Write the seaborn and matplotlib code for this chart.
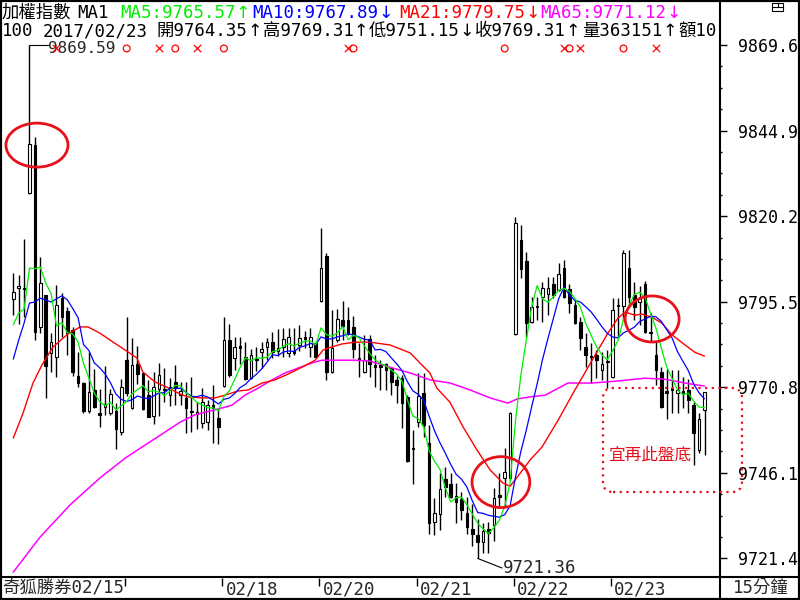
import numpy as np
import pandas as pd
import matplotlib
matplotlib.use("Agg")
import matplotlib.pyplot as plt
import seaborn as sns
from matplotlib.patches import Ellipse, FancyBboxPatch, Rectangle
from matplotlib.lines import Line2D
from matplotlib.transforms import IdentityTransform

# 15-minute bars of the TAIEX, 02/15 (tail) .. 02/23
opens = [
    9796.2, 9799.4, 9799.1, 9826.8, 9840.7, 9788.2, 9797.4, 9780.6, 9779.5, 9796.5,
    9792.8, 9787.3, 9774.1, 9772.0, 9763.9, 9770.0, 9763.3, 9765.1, 9763.3, 9763.9,
    9757.8, 9778.6, 9764.8, 9777.4, 9774.9, 9768.6, 9762.5, 9770.3, 9770.3, 9768.6,
    9772.3, 9768.6, 9767.7, 9763.9, 9763.0, 9760.4, 9760.7, 9765.7, 9761.9, 9771.2,
    9784.4, 9779.2, 9782.7, 9779.5, 9773.5, 9778.9, 9780.9, 9782.4, 9783.8, 9781.2,
    9782.4, 9780.6, 9781.2, 9782.9, 9785.3, 9782.4, 9783.5, 9795.7, 9808.7, 9775.2,
    9784.4, 9790.2, 9790.2, 9788.2, 9779.2, 9775.2, 9784.7, 9777.2, 9777.2, 9777.4,
    9776.3, 9772.9, 9773.5, 9768.0, 9753.2, 9760.7, 9769.1, 9754.6, 9731.9, 9734.2,
    9744.3, 9742.8, 9739.4, 9738.5, 9734.4, 9729.8, 9728.1, 9726.1, 9729.8, 9731.0,
    9739.6, 9744.6, 9744.6, 9786.1, 9813.3, 9807.2, 9789.6, 9794.0, 9796.8, 9797.7,
    9800.6, 9798.8, 9805.2, 9799.1, 9794.5, 9789.6, 9782.4, 9779.8, 9780.1, 9775.8,
    9778.0, 9773.8, 9794.2, 9794.2, 9805.2, 9797.4, 9795.4, 9800.6, 9786.4, 9780.1,
    9775.2, 9769.7, 9770.6, 9769.1, 9769.7, 9770.0, 9765.7, 9752.7, 9764.35]
highs = [
    9803.7, 9803.2, 9813.6, 9869.59, 9843.0, 9808.4, 9797.4, 9786.4, 9800.3, 9797.9,
    9794.0, 9788.2, 9780.9, 9772.3, 9780.9, 9776.0, 9770.3, 9776.9, 9770.3, 9766.2,
    9773.2, 9791.1, 9785.0, 9782.7, 9775.2, 9772.9, 9775.2, 9777.7, 9776.3, 9773.5,
    9777.2, 9772.3, 9772.3, 9773.8, 9766.5, 9770.6, 9767.1, 9771.5, 9764.8, 9791.1,
    9789.0, 9785.3, 9785.3, 9783.8, 9781.8, 9782.4, 9783.8, 9785.0, 9786.7, 9787.6,
    9787.9, 9787.9, 9787.9, 9788.8, 9787.0, 9787.9, 9784.1, 9816.8, 9809.5, 9793.1,
    9793.4, 9795.7, 9794.0, 9791.4, 9783.5, 9785.8, 9785.8, 9780.1, 9778.6, 9777.7,
    9776.6, 9774.1, 9774.4, 9768.6, 9758.4, 9774.9, 9774.9, 9759.9, 9738.8, 9746.0,
    9747.7, 9746.0, 9743.1, 9740.5, 9739.1, 9737.0, 9732.7, 9731.6, 9731.9, 9741.7,
    9746.0, 9753.2, 9763.6, 9819.9, 9817.6, 9809.8, 9796.8, 9796.8, 9801.1, 9802.6,
    9802.6, 9806.6, 9807.5, 9800.6, 9796.0, 9791.1, 9786.4, 9783.5, 9781.5, 9780.9,
    9781.5, 9796.5, 9796.5, 9810.4, 9810.4, 9801.1, 9800.0, 9801.4, 9792.2, 9783.8,
    9776.6, 9776.0, 9775.8, 9775.8, 9773.8, 9773.2, 9766.5, 9763.3, 9769.31]
lows = [
    9791.7, 9789.0, 9791.1, 9826.5, 9784.4, 9786.4, 9767.7, 9775.2, 9773.8, 9785.3,
    9780.1, 9774.1, 9770.9, 9763.3, 9763.3, 9764.8, 9759.3, 9762.8, 9762.8, 9752.9,
    9757.0, 9768.3, 9764.5, 9771.7, 9764.2, 9762.2, 9760.1, 9762.5, 9766.5, 9765.4,
    9765.7, 9765.7, 9757.5, 9757.8, 9758.7, 9759.0, 9758.4, 9754.6, 9754.3, 9771.0,
    9773.8, 9775.8, 9777.4, 9773.0, 9773.2, 9775.5, 9776.3, 9778.6, 9779.2, 9779.8,
    9779.5, 9779.5, 9780.1, 9781.2, 9782.1, 9779.5, 9779.2, 9795.5, 9772.9, 9775.0,
    9783.8, 9784.4, 9785.8, 9779.2, 9773.8, 9775.0, 9773.8, 9770.9, 9770.0, 9770.0,
    9768.6, 9766.2, 9759.0, 9749.3, 9742.8, 9759.3, 9756.4, 9728.4, 9728.1, 9729.5,
    9739.1, 9738.9, 9731.6, 9732.4, 9728.4, 9724.9, 9721.36, 9722.9, 9722.9, 9726.4,
    9736.5, 9736.5, 9744.0, 9785.8, 9802.3, 9785.3, 9789.3, 9790.2, 9789.6, 9791.7,
    9796.5, 9798.6, 9796.6, 9792.2, 9789.1, 9781.5, 9776.6, 9772.0, 9773.5, 9772.9,
    9770.6, 9773.6, 9785.0, 9790.2, 9794.5, 9790.2, 9788.8, 9786.4, 9783.8, 9771.5,
    9764.8, 9761.6, 9763.3, 9763.3, 9764.8, 9763.3, 9748.3, 9751.8, 9751.15]
closes = [
    9798.2, 9800.0, 9799.1, 9841.0, 9786.7, 9800.8, 9776.9, 9783.8, 9794.5, 9791.1,
    9786.4, 9775.2, 9772.0, 9763.9, 9769.4, 9765.1, 9762.8, 9766.0, 9768.8, 9758.7,
    9770.9, 9769.1, 9777.2, 9774.6, 9764.5, 9762.2, 9770.9, 9774.4, 9770.0, 9770.9,
    9770.6, 9769.7, 9764.8, 9763.6, 9763.6, 9766.5, 9765.7, 9764.8, 9759.3, 9784.4,
    9774.4, 9782.4, 9782.1, 9773.2, 9780.1, 9778.6, 9781.8, 9783.8, 9780.9, 9782.1,
    9784.7, 9785.3, 9780.6, 9785.0, 9784.7, 9785.3, 9779.5, 9805.2, 9775.2, 9782.1,
    9790.5, 9788.5, 9786.1, 9781.8, 9778.9, 9778.6, 9777.4, 9776.6, 9776.6, 9775.8,
    9772.3, 9771.5, 9766.2, 9749.5, 9752.9, 9768.3, 9759.9, 9731.6, 9734.4, 9741.4,
    9741.9, 9739.1, 9737.6, 9735.3, 9730.4, 9728.4, 9726.1, 9729.2, 9728.7, 9738.8,
    9739.1, 9746.3, 9763.3, 9818.2, 9804.9, 9789.3, 9794.0, 9794.3, 9799.4, 9799.4,
    9797.4, 9803.5, 9796.8, 9795.1, 9789.3, 9785.0, 9780.1, 9779.5, 9778.6, 9777.4,
    9778.1, 9793.1, 9794.3, 9809.5, 9796.8, 9794.0, 9796.5, 9786.7, 9786.5, 9775.8,
    9765.1, 9769.1, 9770.0, 9770.0, 9769.1, 9767.1, 9757.5, 9761.6, 9769.31]

# first MA values (need bars before the visible window)
ma5_head = [9788.8, 9792.2, 9793.4, 9805.2]
ma10_head = [9778.9, 9784.4, 9789.3, 9795.1, 9795.4, 9796.5, 9796.0, 9795.4, 9796.3]

# MA21 / MA65 (bar position, value)
ma21_x = [0, 1.8, 3.65, 5.3, 7.35, 9.9, 12.35, 13.85, 16.05, 18.5, 21.05, 22.9, 24.0,
          26.25, 28.45, 30.9, 32.35, 34.95, 37.35, 39.2, 41.6, 43.5, 46.05, 48.45,
          50.9, 53.5, 55.9, 57.35, 58.3, 60.9, 63.3, 66.05, 69.75, 73.5, 75.3, 77.15,
          78.45, 80.85, 83.3, 85.9, 88.3, 90.7, 92.0, 93.3, 95.7, 97.9, 100.9, 104.0,
          107.2, 110.1, 112.0, 113.3, 115.1, 116.4, 118.3, 120.1, 122.0, 124.4, 126.2, 128]
ma21_y = [9756.1, 9763.3, 9772.0, 9777.2, 9782.4, 9785.9, 9788.2, 9788.2, 9786.4, 9783.8,
          9781.2, 9779.2, 9775.2, 9772.3, 9770.8, 9768.8, 9768.0, 9767.7, 9767.7, 9768.5,
          9769.7, 9770.0, 9772.0, 9772.9, 9774.6, 9776.6, 9778.6, 9781.5, 9782.1, 9783.3,
          9783.8, 9783.8, 9783.0, 9780.7, 9777.8, 9774.9, 9770.5, 9766.5, 9759.3, 9752.6,
          9746.9, 9743.1, 9742.2, 9744.8, 9749.8, 9753.5, 9761.3, 9770.0, 9778.6, 9786.4,
          9790.8, 9792.5, 9791.6, 9791.9, 9791.0, 9789.3, 9785.9, 9783.0, 9780.9, 9779.75]
ma65_x = [0, 4.95, 10.5, 16.05, 20.7, 25.3, 30.9, 33.6, 37.9, 40.5, 42.9, 45.3, 47.9,
          50.3, 52.7, 55.3, 57.2, 63.3, 66.1, 71.0, 73.5, 77.2, 80.9, 84.6, 88.3, 91.6,
          93.3, 95.7, 98.5, 102.7, 107.2, 112.0, 117.0, 120.7, 124.4, 128]
ma65_y = [9717.4, 9727.5, 9736.8, 9744.6, 9750.3, 9755.0, 9760.7, 9762.8, 9764.5, 9765.6,
          9768.5, 9770.5, 9772.9, 9774.9, 9776.3, 9777.8, 9778.6, 9778.6, 9778.3, 9776.0,
          9774.9, 9772.9, 9772.0, 9770.0, 9767.7, 9766.2, 9767.4, 9768.0, 9768.5, 9772.0,
          9772.0, 9772.6, 9773.4, 9773.1, 9772.0, 9771.12]

# trade signals along the top row
buy_bars = [21, 30, 39, 63, 91, 103, 113]
sell_bars = [8, 27, 34, 62, 102, 105, 119]

day_starts = [21, 39, 57, 75, 93, 111]
day_labels = ["", "02/18", "02/20", "02/21", "02/22", "02/23"]
price_ticks = [9869.6, 9844.9, 9820.2, 9795.5, 9770.8, 9746.1, 9721.4]

# header pieces: (text, colour, x pixel)
header1 = [("加權指數", "black", 2), ("MA1", "black", 77), ("MA5:9765.57↑", "#00ee00", 120),
           ("MA10:9767.89↓", "#0000ff", 252), ("MA21:9779.75↓", "#ff0000", 399),
           ("MA65:9771.12↓", "#ff00ff", 540)]
header2 = [("100", 2), ("2017/02/23", 43), ("開9764.35↑", 157), ("高9769.31↑", 263),
           ("低9751.15↓", 369), ("收9769.31↑", 475), ("量363151↑", 582), ("額10", 678)]

sns.set_style("white")
plt.rcParams['font.family'] = ['DejaVu Sans Mono', 'Noto Sans CJK TC']
FS = 12.5

W, H = 800, 600
fig = plt.figure(figsize=(8, 6), dpi=100)
renderer = fig.canvas.get_renderer()


def fx(px):
    return px / W


def fy(py):
    return 1 - py / H


def header_piece(txt, px, py, color):
    # arrows drawn in the proportional face, they are too thin in the mono one
    arrow = txt[-1] if txt[-1] in "↑↓" else ""
    base = txt[:-1] if arrow else txt
    t = fig.text(fx(px), fy(py), base, fontsize=FS, color=color, ha='left', va='center')
    if arrow:
        x1 = t.get_window_extent(renderer).x1
        fig.text(x1 / W, fy(py), arrow, fontsize=FS, color=color, ha='left',
                 va='center', family='DejaVu Sans')


ax = fig.add_axes([0, fy(577), fx(720), 577 / H])
n = len(closes)
idx = np.arange(n)
ax.set_xlim(-2.46, 130.87)
ax.set_ylim(9716.0, 9882.6)

o = np.array(opens)
c = np.array(closes)
up = c >= o
ax.vlines(idx, lows, highs, color='black', lw=1.0, zorder=2)
bottom = np.minimum(o, c)
height = np.maximum(np.abs(c - o), 0.25)
ax.bar(idx[up], height[up], bottom=bottom[up], width=0.5, color='white',
       edgecolor='black', linewidth=0.8, zorder=3)
ax.bar(idx[~up], height[~up], bottom=bottom[~up], width=0.5, color='black',
       edgecolor='black', linewidth=0.8, zorder=3)

# moving averages
close_s = pd.Series(closes)
ma5 = close_s.rolling(5).mean()
ma5.iloc[:4] = ma5_head
ma10 = close_s.rolling(10).mean()
ma10.iloc[:9] = ma10_head

sns.lineplot(x=ma65_x, y=ma65_y, color='#ff00ff', lw=1.1, ax=ax, zorder=4)
sns.lineplot(x=ma21_x, y=ma21_y, color='#ff0000', lw=1.0, ax=ax, zorder=4)
sns.lineplot(x=idx, y=ma10.values, color='#0000ff', lw=0.9, ax=ax, zorder=5)
sns.lineplot(x=idx, y=ma5.values, color='#00ee00', lw=0.9, ax=ax, zorder=6)

# signals
sig_y = 9868.6
ax.scatter(buy_bars, [sig_y] * len(buy_bars), marker='o', facecolors='none',
           edgecolors='red', s=24, linewidths=0.9, zorder=6)
ax.scatter(sell_bars, [sig_y] * len(sell_bars), marker='x', color='red',
           s=28, linewidths=0.9, zorder=6)

# high / low annotations
hi_bar = int(np.argmax(highs))
lo_bar = int(np.argmin(lows))
ax.plot([hi_bar, 6.4], [highs[hi_bar], highs[hi_bar]], color='black', lw=0.8, zorder=5)
ax.text(6.5, sig_y, f"{highs[hi_bar]:.2f}", fontsize=11.5, ha='left', va='center', zorder=5)
ax.plot([lo_bar, 90.5], [lows[lo_bar], 9718.6], color='black', lw=0.8, zorder=5)
ax.text(90.7, 9718.6, f"{lows[lo_bar]:.2f}", fontsize=FS, ha='left', va='center', zorder=5)

# red circles
for cx, cy, w, h in [(4.39, 9840.7, 11.5, 12.7), (90.3, 9743.4, 10.7, 14.7),
                     (118.3, 9790.5, 10.0, 13.3)]:
    ax.add_patch(Ellipse((cx, cy), w, h, fill=False, edgecolor='#e8101a', lw=2.0, zorder=7))

ax.text(117.9, 9751.2, "宜再此盤底", color='#e8101a', fontsize=12,
        family='Noto Sans CJK TC', ha='center', va='center', zorder=7)

# right price scale
ax.yaxis.tick_right()
ax.set_yticks(price_ticks)
ax.set_yticklabels([f"{v:.1f}" for v in price_ticks])
ax.set_yticks(np.arange(9721.4 + 24.7 / 4, 9869.6, 24.7 / 4), minor=True)
ax.tick_params(axis='y', which='major', direction='out', length=5, width=1,
               pad=8, labelsize=12, colors='black')
ax.tick_params(axis='y', which='minor', direction='out', length=1.5, width=1, colors='black')
ax.set_xticks([])
for s in ax.spines.values():
    s.set_visible(False)

# dotted box (spills into the scale panel)
box = FancyBboxPatch((603, H - 492), 139, 104, boxstyle='round,pad=0,rounding_size=10',
                     transform=IdentityTransform(), fill=False, edgecolor='#e8101a',
                     lw=1.6, linestyle=(0, (1, 2)), zorder=8)
fig.add_artist(box)

# date strip
strip = fig.add_axes([0, 0, fx(720), 23 / H])
strip.set_xlim(ax.get_xlim())
strip.set_ylim(0, 1)
strip.axis('off')
strip.vlines([d - 0.3 for d in day_starts], 0.6, 0.95, color='black', lw=1)
for d, lab in zip(day_starts, day_labels):
    if lab:
        strip.text(d + 0.3, 0.45, lab, fontsize=FS, ha='left', va='center')
fig.text(fx(2), fy(588), "奇狐勝券02/15", fontsize=FS, ha='left', va='center')
fig.text(fx(733), fy(588), "15分鐘", fontsize=FS, ha='left', va='center')

# header
for txt, col, px in header1:
    header_piece(txt, px, 13, col)
for txt, px in header2:
    header_piece(txt, px, 31, 'black')

# frame
for (x0, y0, x1, y1) in [(720, 0, 720, 600), (0, 577, 800, 577)]:
    fig.add_artist(Line2D([fx(x0), fx(x1)], [fy(y0), fy(y1)], color='black', lw=1.5))
fig.add_artist(Rectangle((0, 0), 1, 1, transform=fig.transFigure, fill=False,
                         edgecolor='black', lw=3))
fig.add_artist(Rectangle((fx(772), fy(11)), fx(11), 8 / H, transform=fig.transFigure,
                         fill=False, edgecolor='black', lw=0.8))
fig.add_artist(Line2D([fx(772), fx(783)], [fy(7), fy(7)], color='black', lw=0.8))
fig.add_artist(Line2D([fx(777.5), fx(777.5)], [fy(3), fy(7)], color='black', lw=0.8))

fig.savefig("out.png", dpi=100)
